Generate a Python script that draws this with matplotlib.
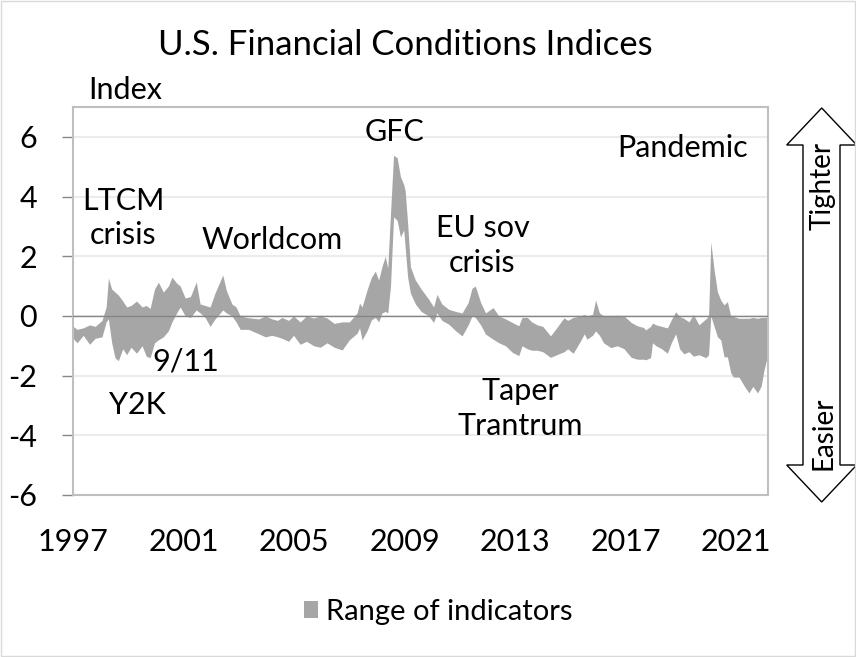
import matplotlib
matplotlib.use("Agg")
import matplotlib.pyplot as plt
from matplotlib.patches import Polygon, Rectangle

# ── Data (decimal year, upper and lower edge of the indicator range) ─────────
years = [1997.00, 1997.15, 1997.37, 1997.60, 1997.80, 1998.05, 1998.20, 1998.28,
         1998.40, 1998.52, 1998.64, 1998.80, 1998.94, 1999.10, 1999.30, 1999.50,
         1999.65, 1999.79, 1999.95, 2000.09, 2000.27, 2000.45, 2000.58, 2000.75,
         2000.88, 2001.06, 2001.25, 2001.46, 2001.60, 2001.78, 2001.96, 2002.14,
         2002.42, 2002.55, 2002.75, 2002.90, 2003.05, 2003.35, 2003.72, 2003.96,
         2004.20, 2004.40, 2004.56, 2004.80, 2004.98, 2005.22, 2005.45, 2005.71,
         2005.95, 2006.19, 2006.45, 2006.74, 2007.00, 2007.28, 2007.37, 2007.46,
         2007.64, 2007.80, 2007.94, 2008.06, 2008.18, 2008.30, 2008.39, 2008.49,
         2008.60, 2008.73, 2008.85, 2008.97, 2009.02, 2009.11, 2009.21, 2009.39,
         2009.60, 2009.87, 2010.05, 2010.17, 2010.35, 2010.60, 2010.85, 2011.08,
         2011.30, 2011.44, 2011.56, 2011.75, 2011.93, 2012.20, 2012.41, 2012.65,
         2012.90, 2013.13, 2013.25, 2013.44, 2013.60, 2013.80, 2014.00, 2014.28,
         2014.50, 2014.77, 2014.90, 2015.10, 2015.37, 2015.50, 2015.60, 2015.80,
         2015.91, 2016.05, 2016.20, 2016.46, 2016.70, 2016.94, 2017.20, 2017.42,
         2017.65, 2017.72, 2017.90, 2017.97, 2018.10, 2018.30, 2018.51, 2018.65,
         2018.81, 2018.95, 2019.10, 2019.29, 2019.45, 2019.65, 2019.90, 2020.00,
         2020.08, 2020.20, 2020.32, 2020.44, 2020.56, 2020.68, 2020.80, 2020.90,
         2021.10, 2021.30, 2021.46, 2021.60, 2021.77, 2021.90, 2022.01, 2022.13]

upper = [-0.35, -0.45, -0.40, -0.30, -0.35, -0.15, 0.30, 1.27,
         0.90, 0.80, 0.70, 0.50, 0.30, 0.35, 0.50, 0.30,
         0.35, 0.25, 0.90, 1.13, 0.80, 1.00, 1.30, 1.10,
         1.00, 0.60, 0.65, 1.14, 0.40, 0.35, 0.30, 0.77,
         1.37, 0.85, 0.40, 0.30, 0.00, -0.06, -0.10, 0.00,
         -0.10, -0.15, -0.05, -0.15, 0.00, -0.20, 0.00, -0.07,
         0.00, -0.07, -0.25, -0.20, -0.20, 0.10, 0.43, 0.30,
         0.87, 1.30, 1.50, 1.20, 1.65, 2.00, 1.60, 3.44,
         5.38, 5.30, 4.66, 4.40, 4.20, 3.10, 1.65, 1.20,
         0.90, 0.56, 0.30, 0.72, 0.40, 0.22, 0.15, 0.10,
         0.45, 0.93, 1.00, 0.45, 0.10, 0.28, 0.00, -0.10,
         -0.22, -0.33, -0.05, -0.05, -0.20, -0.30, -0.35, -0.67,
         -0.40, -0.06, -0.15, -0.05, 0.00, 0.05, 0.00, 0.05,
         0.53, 0.10, 0.00, 0.00, 0.02, 0.00, -0.22, -0.33,
         -0.39, -0.47, -0.35, -0.24, -0.30, -0.35, -0.40, -0.13,
         0.14, -0.02, -0.08, -0.20, 0.05, -0.30, -0.10, 0.00,
         2.48, 1.54, 0.81, 0.53, 0.37, 0.48, 0.00, -0.02,
         -0.08, -0.08, -0.08, -0.05, -0.08, -0.05, -0.05, -0.05]

lower = [-0.75, -0.90, -0.65, -0.95, -0.75, -0.70, -0.20, -0.10,
         -0.90, -1.40, -1.50, -1.10, -1.30, -1.05, -1.25, -1.00,
         -1.35, -1.40, -0.90, -0.80, -0.70, -0.50, -0.20, 0.10,
         0.30, 0.00, -0.05, 0.20, 0.10, -0.05, -0.35, -0.10,
         0.20, 0.10, 0.00, -0.20, -0.45, -0.45, -0.60, -0.70,
         -0.65, -0.70, -0.75, -0.85, -0.65, -0.95, -0.85, -1.00,
         -1.05, -0.90, -1.05, -1.14, -0.80, -0.58, -0.40, -0.80,
         -0.50, -0.13, -0.05, -0.20, 0.10, 0.15, 0.10, 1.00,
         3.32, 3.20, 2.65, 2.88, 2.30, 1.30, 0.76, 0.40,
         0.15, 0.00, -0.22, 0.10, -0.15, -0.28, -0.50, -0.67,
         -0.30, 0.00, -0.05, -0.30, -0.61, -0.78, -0.90, -1.00,
         -1.22, -1.33, -1.00, -1.10, -1.15, -1.15, -1.20, -1.39,
         -1.30, -1.20, -1.10, -1.25, -0.83, -0.60, -0.78, -0.65,
         -0.50, -0.65, -0.90, -1.06, -1.00, -1.10, -1.39, -1.45,
         -1.45, -1.47, -1.40, -0.90, -1.00, -1.10, -1.25, -0.90,
         -0.60, -1.10, -1.27, -1.20, -1.35, -1.30, -1.40, -1.30,
         0.00, -0.35, -0.70, -0.80, -1.37, -1.37, -1.90, -2.05,
         -2.05, -2.36, -2.58, -2.36, -2.58, -2.36, -1.80, -1.35]

year_ticks = [1997, 2001, 2005, 2009, 2013, 2017, 2021]
value_ticks = [-6, -4, -2, 0, 2, 4, 6]

events = [
    (1998.81, 3.28, "LTCM\ncrisis"),
    (2004.21, 2.54, "Worldcom"),
    (2008.63, 6.15, "GFC"),
    (2011.82, 2.37, "EU sov\ncrisis"),
    (2019.07, 5.62, "Pandemic"),
    (2001.09, -1.54, "9/11"),
    (1999.32, -2.98, "Y2K"),
    (2013.20, -3.11, "Taper\nTrantrum"),
]

plt.rcParams["font.family"] = ["Lato", "DejaVu Sans"]
FS = 22
BAND = "#a6a6a6"

W, H = 856, 657
fig = plt.figure(figsize=(W / 100, H / 100), dpi=100)
ax = fig.add_axes([73 / W, 1 - 495 / H, (768 - 73) / W, (495 - 107) / H])

ax.fill_between(years, lower, upper, color=BAND, lw=0, label="Range of indicators")
ax.axhline(0, color="#868686", lw=1.0, zorder=3)

ax.set_xlim(1997.0, 2022.15)
ax.set_ylim(-6, 7)
ax.set_xticks(year_ticks)
ax.set_xticklabels([str(y) for y in year_ticks])
ax.set_yticks(value_ticks)
ax.set_yticklabels([str(v) for v in value_ticks])
ax.tick_params(axis="x", length=0, pad=24, labelsize=FS)
ax.tick_params(axis="y", length=8, width=1.0, color="#868686", pad=18, labelsize=FS)
ax.grid(axis="y", color="#ececec", lw=1.5)
ax.set_axisbelow(True)
for s in ax.spines.values():
    s.set_color("#bfbfbf")
    s.set_linewidth(1.5)

for x, y, txt in events:
    ax.text(x, y, txt, ha="center", va="center", fontsize=FS, linespacing=1.3)

fig.text(405 / W, 1 - 45 / H, "U.S. Financial Conditions Indices",
         ha="center", va="center", fontsize=25)
fig.text(88 / W, 1 - 90 / H, "Index", ha="left", va="center", fontsize=FS)

# legend
fig.legend(loc="center", bbox_to_anchor=(438 / W, 1 - 612 / H), frameon=False,
           fontsize=21, handlelength=0.5, handleheight=0.5, handletextpad=0.25)

# double-headed block arrow on the right (figure pixels)
arrow_px = [(821.7, 108), (856.7, 145), (840, 145), (840, 465), (856.7, 465),
            (821.7, 502), (786.7, 465), (803, 465), (803, 145), (786.7, 145)]
fig.patches.append(Polygon([(x / W, 1 - y / H) for x, y in arrow_px], closed=True,
                           transform=fig.transFigure, fc="white", ec="black", lw=1.0))
fig.text(823 / W, 1 - 186 / H, "Tighter", rotation=90, ha="center", va="center", fontsize=20)
fig.text(823 / W, 1 - 433 / H, "Easier", rotation=90, ha="center", va="center", fontsize=20)

# chart border
fig.patches.append(Rectangle((0.001, 0.001), 0.998, 0.997, transform=fig.transFigure,
                             fill=False, ec="#d9d9d9", lw=1.0))

fig.savefig("out.png", dpi=100)
